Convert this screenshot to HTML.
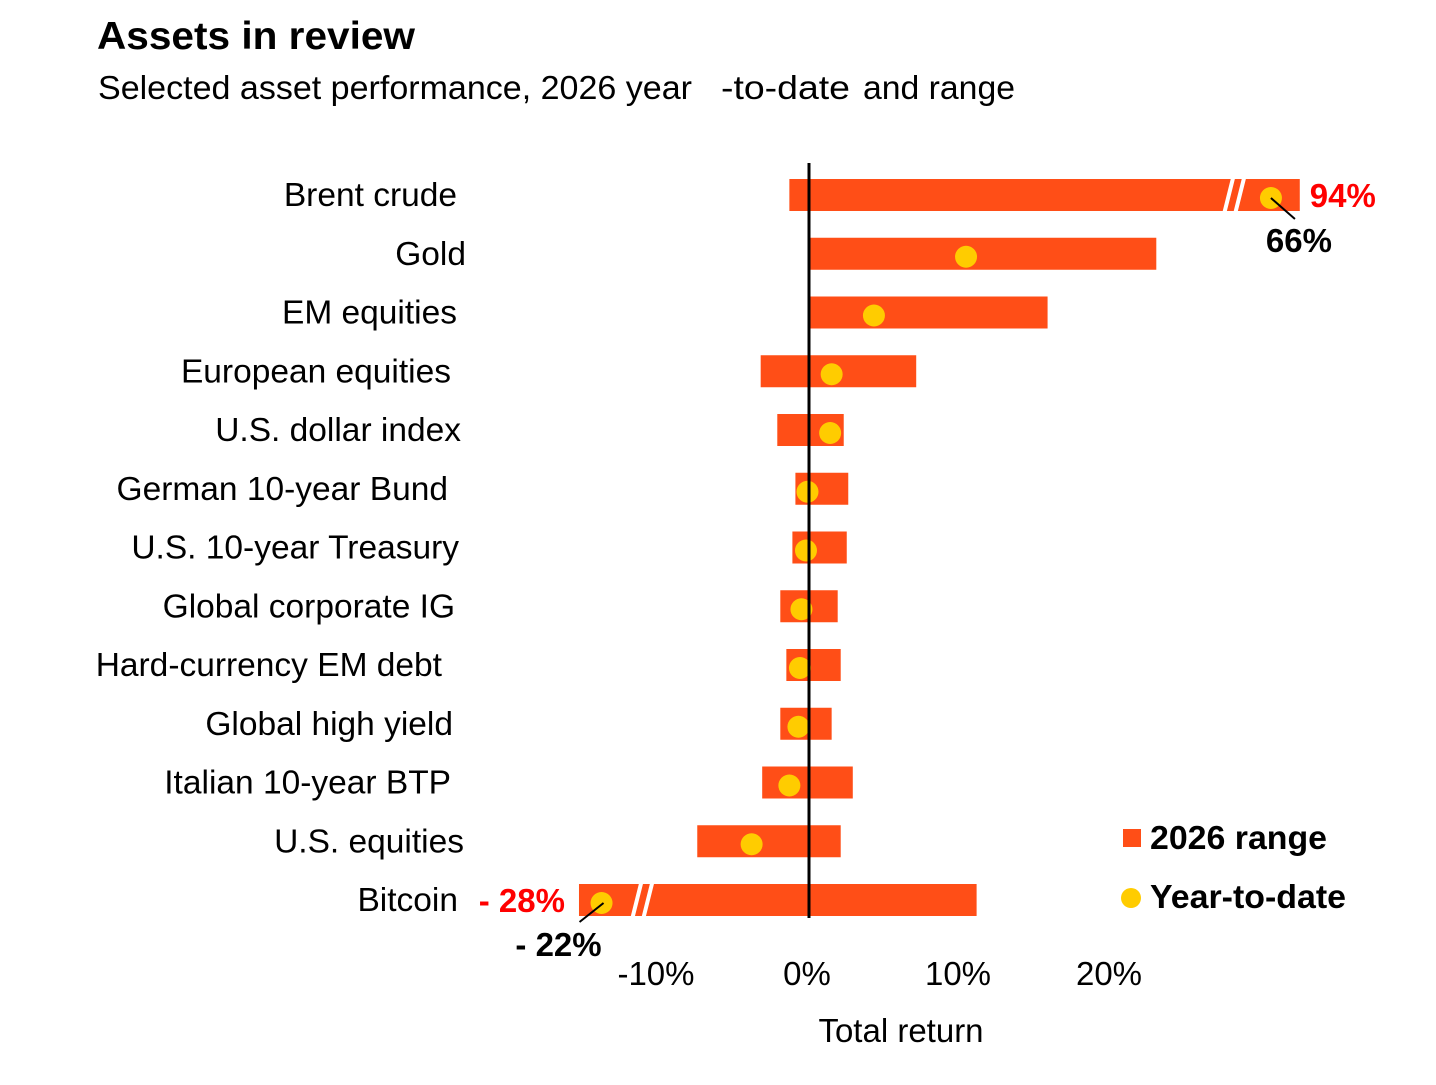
<!DOCTYPE html>
<html><head><meta charset="utf-8"><style>
body{margin:0;background:#fff;font-family:"Liberation Sans",Arial,sans-serif;}
svg text{font-family:"Liberation Sans",Arial,sans-serif;}
</style></head><body>
<svg width="1436" height="1080" viewBox="0 0 1436 1080">
<text x="97" y="49" font-size="39" font-weight="bold" fill="#000" textLength="318" lengthAdjust="spacingAndGlyphs">Assets in review</text>
<text x="98" y="99" font-size="33" fill="#000"><tspan textLength="594" lengthAdjust="spacingAndGlyphs">Selected asset performance, 2026 year</tspan><tspan x="721" textLength="129" lengthAdjust="spacingAndGlyphs">-to-date</tspan><tspan x="863" textLength="152" lengthAdjust="spacingAndGlyphs">and range</tspan></text>
<g id="plot"></g>
<line x1="809" y1="163" x2="809" y2="918" stroke="#000" stroke-width="3"/>
<text x="901" y="1042" font-size="33" text-anchor="middle">Total return</text>
<rect x="1123" y="829" width="18" height="18" fill="#ff4e17"/>
<text x="1150" y="849" font-size="33" font-weight="bold" textLength="177" lengthAdjust="spacingAndGlyphs">2026 range</text>
<circle cx="1131" cy="898" r="10" fill="#ffcc00"/>
<text x="1150" y="908" font-size="33" font-weight="bold" textLength="196" lengthAdjust="spacingAndGlyphs">Year-to-date</text>
</svg>
<script>
const categories=["Brent crude","Gold","EM equities","European equities","U.S. dollar index","German 10-year Bund","U.S. 10-year Treasury","Global corporate IG","Hard-currency EM debt","Global high yield","Italian 10-year BTP","U.S. equities","Bitcoin"];
const lows=[-1.3,0,0,-3.2,-2.1,-0.9,-1.1,-1.9,-1.5,-1.9,-3.1,-7.4,-28];
const highs=[94,23.0,15.8,7.1,2.3,2.6,2.5,1.9,2.1,1.5,2.9,2.1,11.1];
const ytd=[66,10.4,4.3,1.5,1.4,-0.1,-0.2,-0.5,-0.6,-0.7,-1.3,-3.8,-22];
const ticks=[-10,0,10,20];
const tickLabels=["-10%","0%","10%","20%"];
const labelEnds=[457,466,457,451,461,448,459,455,442,453,451,464,458];
const NS="http://www.w3.org/2000/svg";
const g=document.getElementById('plot');
const X0=809,PX=15.1,HI=28,LO=-11;
function x(v){
  if(v>HI) return X0+HI*PX+(v-HI)*1.03;
  if(v<LO) return X0+LO*PX+(v-LO)*3.76;
  return X0+v*PX;
}
function y(i){return 195+i*58.75;}
function el(t,a){const e=document.createElementNS(NS,t);for(const k in a)e.setAttribute(k,a[k]);g.appendChild(e);return e;}
categories.forEach((c,i)=>{
  const t=el('text',{x:labelEnds[i],y:y(i)+11,'font-size':33.5,'text-anchor':'end'});
  t.textContent=c;
  
  
  const b=el('rect',{x:x(lows[i]),y:y(i)-16,width:x(highs[i])-x(lows[i]),height:32,fill:'#ff4e17'});
  
  
  if(highs[i]>HI){
    const bx=x(HI)+2;
    const br=el('path',{d:`M${bx-10} ${y(i)+20} L${bx} ${y(i)-20} M${bx+1} ${y(i)+20} L${bx+11} ${y(i)-20}`,stroke:'#fff','stroke-width':4,fill:'none'});
    
    
  }
  if(lows[i]<LO){
    const bx=x(LO)-1;
    const br=el('path',{d:`M${bx-10} ${y(i)+20} L${bx} ${y(i)-20} M${bx+1} ${y(i)+20} L${bx+11} ${y(i)-20}`,stroke:'#fff','stroke-width':4,fill:'none'});
    
    
  }
  const d=el('circle',{cx:x(ytd[i]),cy:y(i)+3,r:11,fill:'#ffcc00'});
  
  
});
const bi=0, bj=categories.length-1;
let a=el('text',{x:x(highs[bi])+10,y:y(bi)+12,'font-size':33,'font-weight':'bold',fill:'#ff0000'});
a.textContent=highs[bi]+'%';


el('line',{x1:x(ytd[bi]),y1:y(bi)+3,x2:x(ytd[bi])+24,y2:y(bi)+24,stroke:'#000','stroke-width':2});
a=el('text',{x:x(ytd[bi])+28,y:y(bi)+57,'font-size':33,'font-weight':'bold','text-anchor':'middle'});
a.textContent=ytd[bi]+'%';


a=el('text',{x:x(lows[bj])-14,y:y(bj)+12,'font-size':33,'font-weight':'bold',fill:'#ff0000','text-anchor':'end'});
a.textContent='- '+Math.abs(lows[bj])+'%';


el('line',{x1:x(ytd[bj])+2,y1:y(bj)+3,x2:x(ytd[bj])-22,y2:y(bj)+22,stroke:'#000','stroke-width':2});
a=el('text',{x:x(ytd[bj])-43,y:y(bj)+56,'font-size':33,'font-weight':'bold','text-anchor':'middle'});
a.textContent='- '+Math.abs(ytd[bj])+'%';


ticks.forEach((t,i)=>{
  const e=el('text',{x:x(t)-2,y:985,'font-size':33,'text-anchor':'middle'});
  e.textContent=tickLabels[i];
  
  
});
</script>
</body></html>
